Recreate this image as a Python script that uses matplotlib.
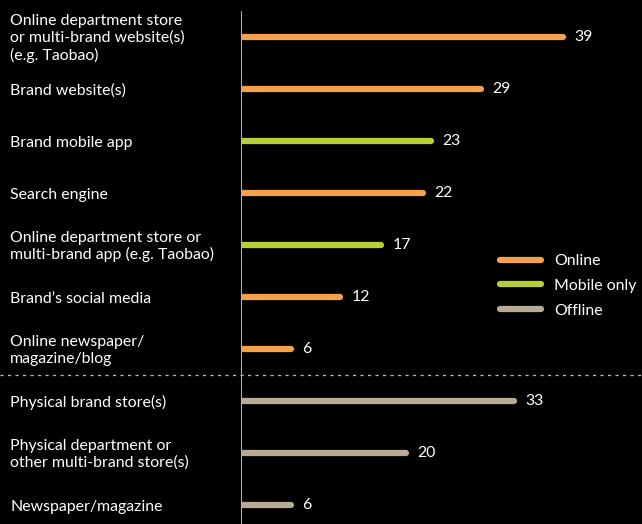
import matplotlib.pyplot as plt
from matplotlib.lines import Line2D

# channel labels, values and group of each bar (top to bottom)
labels = [
    "Online department store\nor multi-brand website(s)\n(e.g. Taobao)",
    "Brand website(s)",
    "Brand mobile app",
    "Search engine",
    "Online department store or\nmulti-brand app (e.g. Taobao)",
    "Brand\u2019s social media",
    "Online newspaper/\nmagazine/blog",
    "Physical brand store(s)",
    "Physical department or\nother multi-brand store(s)",
    "Newspaper/magazine",
]
values = [39, 29, 23, 22, 17, 12, 6, 33, 20, 6]
groups = ["Online", "Online", "Mobile only", "Online", "Mobile only",
          "Online", "Online", "Offline", "Offline", "Offline"]

colors = {"Online": "#F5A04B", "Mobile only": "#B8CE38", "Offline": "#B7AB96"}

plt.rcParams['font.family'] = ['Lato', 'DejaVu Sans']
fs = 11.4

fig = plt.figure(figsize=(6.42, 5.24), dpi=100, facecolor="black")
ax = fig.add_axes([241 / 642, 0, 1 - 241 / 642, 1])
ax.set_facecolor("black")
ax.set_xlim(0, (642 - 241) / 8.26)
ax.set_ylim((524 - 37) / 52, -37 / 52)
ax.axis("off")

for i, (lab, v, g) in enumerate(zip(labels, values, groups)):
    ax.plot([0, v], [i, i], color=colors[g], lw=4.5, solid_capstyle="round")
    ax.text(v + 1.4, i, str(v), color="white", fontsize=fs, va="center", ha="left")
    ax.annotate(lab, xy=(10 / 642, i + 0.03), xycoords=("figure fraction", "data"),
                color="white", fontsize=fs, va="center", ha="left",
                linespacing=1.22, annotation_clip=False)

# vertical baseline
ax.axvline(0, ymin=0, ymax=1 - 12 / 524, color="#c8c8c8", lw=1.3, zorder=0)

# divider between online and offline channels
fig.add_artist(Line2D([0, 1], [1 - 375 / 524] * 2, color="#bbbbbb", lw=0.9,
                      linestyle=(0, (2.5, 3.5))))

handles = [Line2D([], [], color=colors[g], lw=4.5, solid_capstyle="round")
           for g in ["Online", "Mobile only", "Offline"]]
leg = fig.legend(handles, ["Online", "Mobile only", "Offline"],
                 loc="center left", bbox_to_anchor=(500 / 642, 1 - 286 / 524),
                 frameon=False, fontsize=fs, handlelength=2.6,
                 handletextpad=0.8, labelspacing=0.68, borderpad=0,
                 borderaxespad=0, labelcolor="white")

fig.savefig("out.png", dpi=100, facecolor="black")
